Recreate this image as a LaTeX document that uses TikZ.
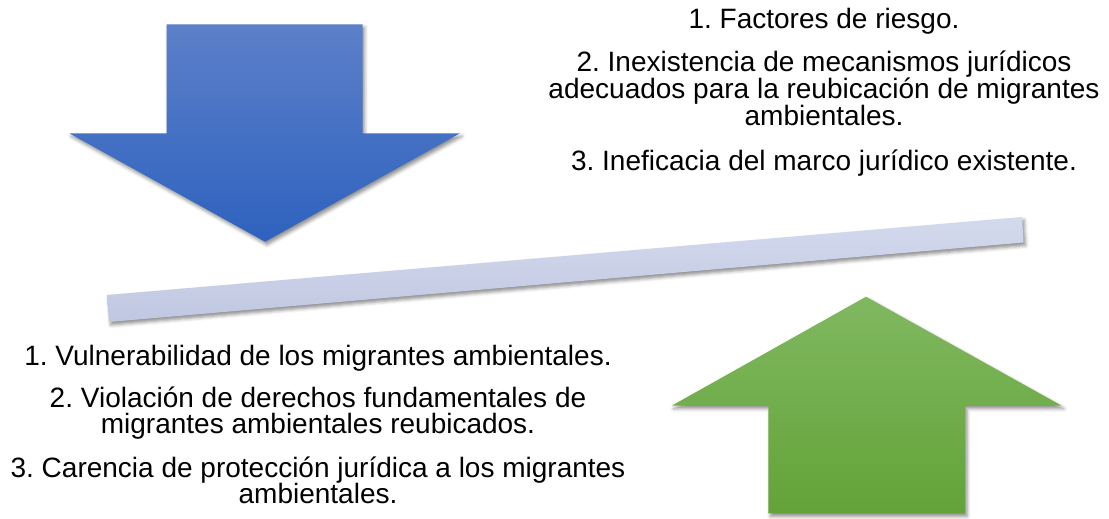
\documentclass[tikz,border=0pt]{standalone}
\usepackage{fontspec}
\setmainfont{Liberation Sans}
\usetikzlibrary{shadows.blur}
\definecolor{blueTop}{RGB}{92,128,201}
\definecolor{blueBot}{RGB}{46,98,190}
\definecolor{greenTop}{RGB}{128,184,96}
\definecolor{greenBot}{RGB}{99,163,56}
\definecolor{barTop}{RGB}{212,218,237}
\definecolor{barBot}{RGB}{192,199,225}
\frenchspacing
\tikzset{
  softshadow/.style={blur shadow={shadow xshift=2pt, shadow yshift=-3pt, shadow blur radius=3.5pt, shadow opacity=45}},
  txt/.style={font=\fontsize{28}{26.7}\selectfont, anchor=base, inner sep=0pt, text=black},
}
\begin{document}
\begin{tikzpicture}[x=1pt,y=-1pt]
\useasboundingbox (0,0) rectangle (1109,519);
% down arrow (blue)
\path[softshadow, top color=blueTop, bottom color=blueBot]
  (166.7,24.3) -- (362.7,24.3) -- (362.7,133.3) -- (460,133.3) -- (265,241.7)
  -- (69.3,133.3) -- (166.7,133.3) -- cycle;
% up arrow (green)
\path[softshadow, top color=greenTop, bottom color=greenBot]
  (866,296.7) -- (1061.7,405.7) -- (965,405.7) -- (965,513.3) -- (768.3,513.3)
  -- (768.3,405.7) -- (671.7,405.7) -- cycle;
% tilted bar
\path[softshadow, top color=barTop, bottom color=barBot]
  (107,295) -- (1022,217) -- (1023.5,242.5) -- (109,322) -- cycle;
% right text
\node[txt] (r1)  at (824,28.5) {1. Factores de riesgo.};
\node[txt] (r2a) at (824,72)   {2. Inexistencia de mecanismos jurídicos};
\node[txt] (r2b) at (824,98.7) {adecuados para la reubicación de migrantes};
\node[txt] (r2c) at (824,125.4){ambientales.};
\node[txt] (r3)  at (824,170)  {3. Ineficacia del marco jurídico existente.};
% left text
\node[txt] (l1)  at (318,365)  {1. Vulnerabilidad de los migrantes ambientales.};
\node[txt] (l2a) at (318,407)  {2. Violación de derechos fundamentales de};
\node[txt] (l2b) at (318,433.7){migrantes ambientales reubicados.};
\node[txt] (l3a) at (318,477)  {3. Carencia de protección jurídica a los migrantes};
\node[txt] (l3b) at (318,503.7){ambientales.};
\end{tikzpicture}
\end{document}
